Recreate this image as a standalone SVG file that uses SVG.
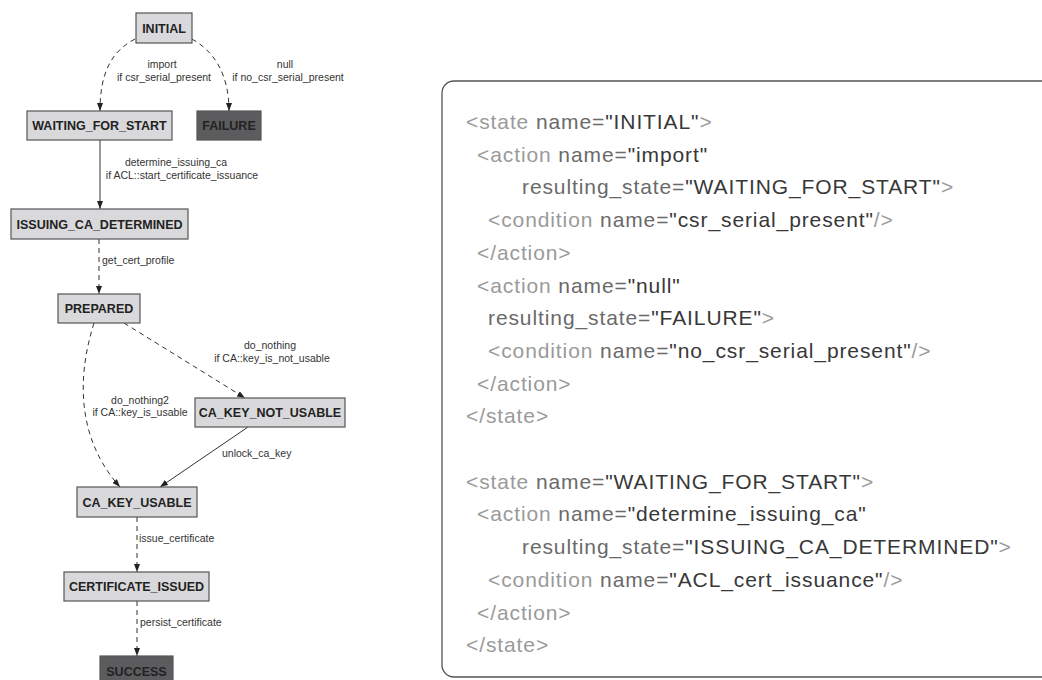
<svg xmlns="http://www.w3.org/2000/svg" width="1042" height="680" viewBox="0 0 1042 680">
  <style>
    .node rect { fill: #d9d9db; stroke: #555; stroke-width: 1.2; }
    .node.final rect { fill: #5c5c5e; }
    .node text { font-family: "Liberation Sans", Arial, sans-serif; font-weight: bold; font-size: 12.5px; fill: #222; text-anchor: middle; }
    .edge { fill: none; stroke: #333; stroke-width: 1; marker-end: url(#arrow); }
    .dashed { stroke-dasharray: 5 4; }
    .lbl { font-family: "Liberation Sans", Arial, sans-serif; font-size: 10.5px; fill: #333; }
    .mid { text-anchor: middle; }
    .code { font-family: "Liberation Sans", Arial, sans-serif; font-size: 21px; letter-spacing: 0.9px; }
    .tag { fill: #9a9a9a; }
    .att { fill: #6a6a6a; }
    .val { fill: #383838; }
  </style>
  <defs>
    <marker id="arrow" markerUnits="userSpaceOnUse" markerWidth="8" markerHeight="6" refX="8" refY="3" orient="auto">
      <path d="M0,0 L8,3 L0,6 z" fill="#222"/>
    </marker>
  </defs>
  <rect width="1042" height="680" fill="#fff"/>

  <!-- connectors -->
  <g id="connectors">
    <path class="edge dashed" d="M135,39 C110,52 100,75 100,111"/>
    <path class="edge dashed" d="M192,39 C215,52 229,75 229,111"/>
    <path class="edge" d="M100,140 L100,209"/>
    <path class="edge dashed" d="M99,239 L99,294"/>
    <path class="edge dashed" d="M124,323 L245,398"/>
    <path class="edge dashed" d="M94,323 C76,380 78,440 120,487"/>
    <path class="edge" d="M248,427 L160,487"/>
    <path class="edge dashed" d="M137,517 L137,572"/>
    <path class="edge dashed" d="M137,601 L137,656"/>

    <text class="lbl mid" x="162" y="68">import</text>
    <text class="lbl mid" x="164" y="81">if csr_serial_present</text>
    <text class="lbl mid" x="285" y="68">null</text>
    <text class="lbl mid" x="288" y="81">if no_csr_serial_present</text>
    <text class="lbl mid" x="176" y="166">determine_issuing_ca</text>
    <text class="lbl mid" x="182" y="179">if ACL::start_certificate_issuance</text>
    <text class="lbl" x="102" y="264">get_cert_profile</text>
    <text class="lbl mid" x="270" y="349">do_nothing</text>
    <text class="lbl mid" x="272" y="362">if CA::key_is_not_usable</text>
    <text class="lbl mid" x="140" y="404">do_nothing2</text>
    <text class="lbl mid" x="140" y="416">if CA::key_is_usable</text>
    <text class="lbl" x="222" y="457">unlock_ca_key</text>
    <text class="lbl" x="139" y="542">issue_certificate</text>
    <text class="lbl" x="140" y="626">persist_certificate</text>
  </g>

  <!-- states -->
  <g id="INITIAL" class="node"><rect x="136" y="13" width="56" height="30"/><text x="164" y="32.5">INITIAL</text></g>
  <g id="WAITING_FOR_START" class="node"><rect x="27" y="111" width="145" height="29"/><text x="99.5" y="130">WAITING_FOR_START</text></g>
  <g id="FAILURE" class="node final"><rect x="197" y="111" width="64" height="29"/><text x="229" y="130">FAILURE</text></g>
  <g id="ISSUING_CA_DETERMINED" class="node"><rect x="11" y="209" width="177" height="30"/><text x="99.5" y="228.5">ISSUING_CA_DETERMINED</text></g>
  <g id="PREPARED" class="node"><rect x="58" y="294" width="82" height="29"/><text x="99" y="313">PREPARED</text></g>
  <g id="CA_KEY_NOT_USABLE" class="node"><rect x="195" y="398" width="150" height="29"/><text x="270" y="417">CA_KEY_NOT_USABLE</text></g>
  <g id="CA_KEY_USABLE" class="node"><rect x="77" y="487" width="120" height="30"/><text x="137" y="506.5">CA_KEY_USABLE</text></g>
  <g id="CERTIFICATE_ISSUED" class="node"><rect x="64" y="572" width="145" height="29"/><text x="136.5" y="591">CERTIFICATE_ISSUED</text></g>
  <g id="SUCCESS" class="node final"><rect x="100" y="656" width="73" height="29"/><text x="136.5" y="676">SUCCESS</text></g>

  <!-- XML listing panel -->
  <g id="listing">
    <rect x="442" y="81" width="900" height="596" rx="12" ry="12" fill="#fff" stroke="#555" stroke-width="1.3"/>
    <g class="code">
      <text x="466" y="129"><tspan class="tag">&lt;state</tspan><tspan class="att"> name=</tspan><tspan class="val">"INITIAL"</tspan><tspan class="tag">&gt;</tspan></text>
      <text x="477" y="161.7"><tspan class="tag">&lt;action</tspan><tspan class="att"> name=</tspan><tspan class="val">"import"</tspan></text>
      <text x="522" y="194.4"><tspan class="att">resulting_state=</tspan><tspan class="val">"WAITING_FOR_START"</tspan><tspan class="tag">&gt;</tspan></text>
      <text x="488" y="227.1"><tspan class="tag">&lt;condition</tspan><tspan class="att"> name=</tspan><tspan class="val">"csr_serial_present"</tspan><tspan class="tag">/&gt;</tspan></text>
      <text x="477" y="259.8"><tspan class="tag">&lt;/action&gt;</tspan></text>
      <text x="477" y="292.5"><tspan class="tag">&lt;action</tspan><tspan class="att"> name=</tspan><tspan class="val">"null"</tspan></text>
      <text x="488" y="325.2"><tspan class="att">resulting_state=</tspan><tspan class="val">"FAILURE"</tspan><tspan class="tag">&gt;</tspan></text>
      <text x="488" y="357.9"><tspan class="tag">&lt;condition</tspan><tspan class="att"> name=</tspan><tspan class="val">"no_csr_serial_present"</tspan><tspan class="tag">/&gt;</tspan></text>
      <text x="477" y="390.6"><tspan class="tag">&lt;/action&gt;</tspan></text>
      <text x="466" y="423.3"><tspan class="tag">&lt;/state&gt;</tspan></text>

      <text x="466" y="488.7"><tspan class="tag">&lt;state</tspan><tspan class="att"> name=</tspan><tspan class="val">"WAITING_FOR_START"</tspan><tspan class="tag">&gt;</tspan></text>
      <text x="477" y="521.4"><tspan class="tag">&lt;action</tspan><tspan class="att"> name=</tspan><tspan class="val">"determine_issuing_ca"</tspan></text>
      <text x="522" y="554.1"><tspan class="att">resulting_state=</tspan><tspan class="val">"ISSUING_CA_DETERMINED"</tspan><tspan class="tag">&gt;</tspan></text>
      <text x="488" y="586.8"><tspan class="tag">&lt;condition</tspan><tspan class="att"> name=</tspan><tspan class="val">"ACL_cert_issuance"</tspan><tspan class="tag">/&gt;</tspan></text>
      <text x="477" y="619.5"><tspan class="tag">&lt;/action&gt;</tspan></text>
      <text x="466" y="652.2"><tspan class="tag">&lt;/state&gt;</tspan></text>
    </g>
  </g>
</svg>
